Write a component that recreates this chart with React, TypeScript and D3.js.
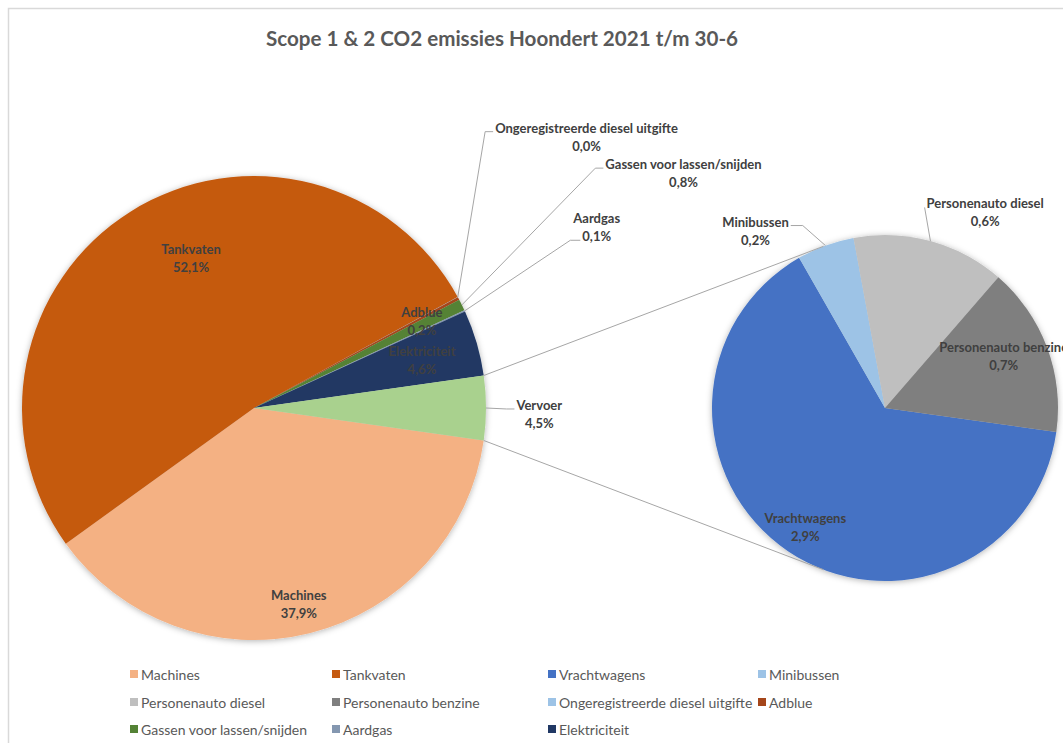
import React, { useRef, useEffect } from "react";
import * as d3 from "d3";

// main pie (own slices, "Vervoer" is added from the sub pie)
const mainNames = [
  "Machines",
  "Tankvaten",
  "Ongeregistreerde diesel uitgifte",
  "Adblue",
  "Gassen voor lassen/snijden",
  "Aardgas",
  "Elektriciteit",
];
const mainValues = [37.9, 52.1, 0.02, 0.2, 0.8, 0.1, 4.6];

// secondary pie (Vervoer)
const subNames = ["Vrachtwagens", "Minibussen", "Personenauto diesel", "Personenauto benzine"];
const subValues = [2.89, 0.24, 0.64, 0.71];

const legendNames = [
  "Machines",
  "Tankvaten",
  "Vrachtwagens",
  "Minibussen",
  "Personenauto diesel",
  "Personenauto benzine",
  "Ongeregistreerde diesel uitgifte",
  "Adblue",
  "Gassen voor lassen/snijden",
  "Aardgas",
  "Elektriciteit",
];

const colors: Record<string, string> = {
  Machines: "#F4B183",
  Tankvaten: "#C55A11",
  Vrachtwagens: "#4472C4",
  Minibussen: "#9DC3E6",
  "Personenauto diesel": "#BFBFBF",
  "Personenauto benzine": "#7F7F7F",
  "Ongeregistreerde diesel uitgifte": "#9DC3E6",
  Adblue: "#A5461A",
  "Gassen voor lassen/snijden": "#548235",
  Aardgas: "#8497B0",
  Elektriciteit: "#203864",
  Vervoer: "#A9D18E",
};

// label placement: k = radius factor, da = angle offset (deg) from slice middle
const labelLayout: Record<string, any> = {
  Machines: { k: 0.867, da: 1 },
  Tankvaten: { k: 0.7, da: 9.4 },
  Adblue: { k: 0.815, da: 0.8 },
  Elektriciteit: { k: 0.753, da: 0.4 },
  "Ongeregistreerde diesel uitgifte": { k: 1.85, da: -10.65, attach: "left", line: 0, hook: 8 },
  "Gassen voor lassen/snijden": { k: 2.11, da: -2.3, attach: "left", line: 0, hook: 8 },
  Aardgas: { k: 1.67, da: -3.05, attach: "left", line: 1, hook: 10 },
  Vervoer: { k: 1.23, da: 1.2, attach: "left", line: 0, hook: 8 },
  Vrachtwagens: { k: 0.83, da: -0.4 },
  Minibussen: { k: 1.27, da: -16, attach: "right", line: 0, hook: 12 },
  "Personenauto diesel": { k: 1.27, da: 11.9, attach: "left", line: 0, hook: 0 },
  "Personenauto benzine": { k: 0.75, da: -3.3 },
};

const legendCols = [130, 332, 548, 758];
const legendRows = [674, 702, 729];

const W = 1063;
const H = 743;
const FONT = "Lato, 'Open Sans', sans-serif";

const fmt = (v: number) => v.toFixed(1).replace(".", ",") + "%";

const App: React.FC = () => {
  const svgRef = useRef<SVGSVGElement>(null);

  useEffect(() => {
    if (!svgRef.current) return;
    const svg = d3.select(svgRef.current);
    svg.selectAll("*").remove();

    const deg = Math.PI / 180;
    const main = { cx: 254, cy: 408, r: 232 };
    const sub = { cx: 885, cy: 408, r: 173 };
    const subRotation = 8; // degrees below 3 o'clock where the sub pie starts

    const vervoer = d3.sum(subValues);
    const names = [...mainNames, "Vervoer"];
    const values = [...mainValues, vervoer];
    const total = d3.sum(values);
    const half = (vervoer / total) * Math.PI;

    const pieMain = d3
      .pie<number>()
      .sort(null)
      .startAngle(Math.PI / 2 + half)
      .endAngle(Math.PI / 2 + half + 2 * Math.PI);
    const arcsMain = pieMain(values);

    const pieSub = d3
      .pie<number>()
      .sort(null)
      .startAngle(Math.PI / 2 + subRotation * deg)
      .endAngle(Math.PI / 2 + subRotation * deg + 2 * Math.PI);
    const arcsSub = pieSub(subValues);

    const defs = svg.append("defs");
    defs
      .append("filter")
      .attr("id", "shadow")
      .attr("x", "-10%")
      .attr("y", "-10%")
      .attr("width", "120%")
      .attr("height", "120%")
      .append("feDropShadow")
      .attr("dx", 0)
      .attr("dy", 1)
      .attr("stdDeviation", 3)
      .attr("flood-color", "#000")
      .attr("flood-opacity", 0.3);

    svg
      .append("rect")
      .attr("width", W)
      .attr("height", H)
      .attr("fill", "#fff");

    // chart frame
    svg
      .append("rect")
      .attr("x", 8.5)
      .attr("y", 8.5)
      .attr("width", W + 20)
      .attr("height", H + 20)
      .attr("fill", "none")
      .attr("stroke", "#d9d9d9")
      .attr("stroke-width", 1.5);

    svg
      .append("text")
      .attr("x", 502)
      .attr("y", 46)
      .attr("text-anchor", "middle")
      .attr("font-family", FONT)
      .attr("font-weight", "bold")
      .attr("font-size", 20.6)
      .attr("fill", "#595959")
      .text("Scope 1 & 2 CO2 emissies Hoondert 2021 t/m 30-6");

    const pt = (c: any, a: number, k: number) => [c.cx + k * c.r * Math.sin(a), c.cy - k * c.r * Math.cos(a)];

    const arcMain = d3.arc<any>().innerRadius(0).outerRadius(main.r);
    const arcSub = d3.arc<any>().innerRadius(0).outerRadius(sub.r);

    svg
      .append("g")
      .attr("transform", `translate(${main.cx},${main.cy})`)
      .attr("filter", "url(#shadow)")
      .selectAll("path")
      .data(arcsMain)
      .join("path")
      .attr("d", arcMain)
      .attr("fill", (d, i) => colors[names[i]]);

    svg
      .append("g")
      .attr("transform", `translate(${sub.cx},${sub.cy})`)
      .attr("filter", "url(#shadow)")
      .selectAll("path")
      .data(arcsSub)
      .join("path")
      .attr("d", arcSub)
      .attr("fill", (d, i) => colors[subNames[i]]);

    // connector lines: Vervoer slice corners -> tangents of the sub pie
    const vArc = arcsMain[arcsMain.length - 1];
    const corners = [pt(main, vArc.startAngle, 1), pt(main, vArc.endAngle, 1)];
    corners.sort((a, b) => a[1] - b[1]); // top corner first
    const conn = svg.append("g").attr("stroke", "#a6a6a6").attr("stroke-width", 1).attr("fill", "none");
    corners.forEach((p, idx) => {
      const dx = p[0] - sub.cx;
      const dy = p[1] - sub.cy;
      const dist = Math.hypot(dx, dy);
      const phi = Math.atan2(dy, dx);
      const off = Math.acos(sub.r / dist);
      const cands = [phi + off, phi - off].map((a) => [sub.cx + sub.r * Math.cos(a), sub.cy + sub.r * Math.sin(a)]);
      cands.sort((a, b) => a[1] - b[1]);
      const t = idx === 0 ? cands[0] : cands[1];
      conn.append("line").attr("x1", p[0]).attr("y1", p[1]).attr("x2", t[0]).attr("y2", t[1]);
    });

    const labels = svg
      .append("g")
      .attr("font-family", FONT)
      .attr("font-weight", "bold")
      .attr("font-size", 13)
      .attr("fill", "#404040");
    const leaders = conn;

    function placeLabel(c: any, a: any, name: string, value: number) {
      const lay = labelLayout[name];
      if (!lay) return;
      const mid = (a.startAngle + a.endAngle) / 2;
      const [x, y] = pt(c, mid + lay.da * deg, lay.k);
      const lines = [name, fmt(value)];
      const widths = lines.map((s, i) => {
        const t = labels
          .append("text")
          .attr("x", x)
          .attr("y", y + (i === 0 ? -9 : 9))
          .attr("text-anchor", "middle")
          .attr("dominant-baseline", "central")
          .text(s);
        return (t.node() as SVGTextElement).getComputedTextLength();
      });
      if (lay.attach) {
        const edge = pt(c, mid, 1);
        const w = widths[lay.line];
        const ly = y + (lay.line === 0 ? -9 : 9) + 4;
        const endX = lay.attach === "left" ? x - w / 2 - 2 : x + w / 2 + 2;
        const elbowX = lay.attach === "left" ? endX - lay.hook : endX + lay.hook;
        leaders
          .append("path")
          .attr("d", `M${edge[0]},${edge[1]}L${elbowX},${ly}L${endX},${ly}`);
      }
    }

    arcsMain.forEach((a, i) => placeLabel(main, a, names[i], values[i]));
    arcsSub.forEach((a, i) => placeLabel(sub, a, subNames[i], subValues[i]));

    // legend
    const legend = svg.append("g").attr("font-family", FONT).attr("font-size", 14).attr("fill", "#595959");
    legendNames.forEach((n, i) => {
      const x = legendCols[i % 4];
      const y = legendRows[Math.floor(i / 4)];
      legend.append("rect").attr("x", x).attr("y", y - 4).attr("width", 8).attr("height", 8).attr("fill", colors[n]);
      legend
        .append("text")
        .attr("x", x + 11)
        .attr("y", y)
        .attr("dominant-baseline", "central")
        .text(n);
    });

    return () => {
      svg.selectAll("*").remove();
    };
  }, []);

  return (
    <svg
      ref={svgRef}
      width={W}
      height={H}
      style={{ position: "absolute", left: 0, top: 0, display: "block" }}
    ></svg>
  );
};

export default App;
